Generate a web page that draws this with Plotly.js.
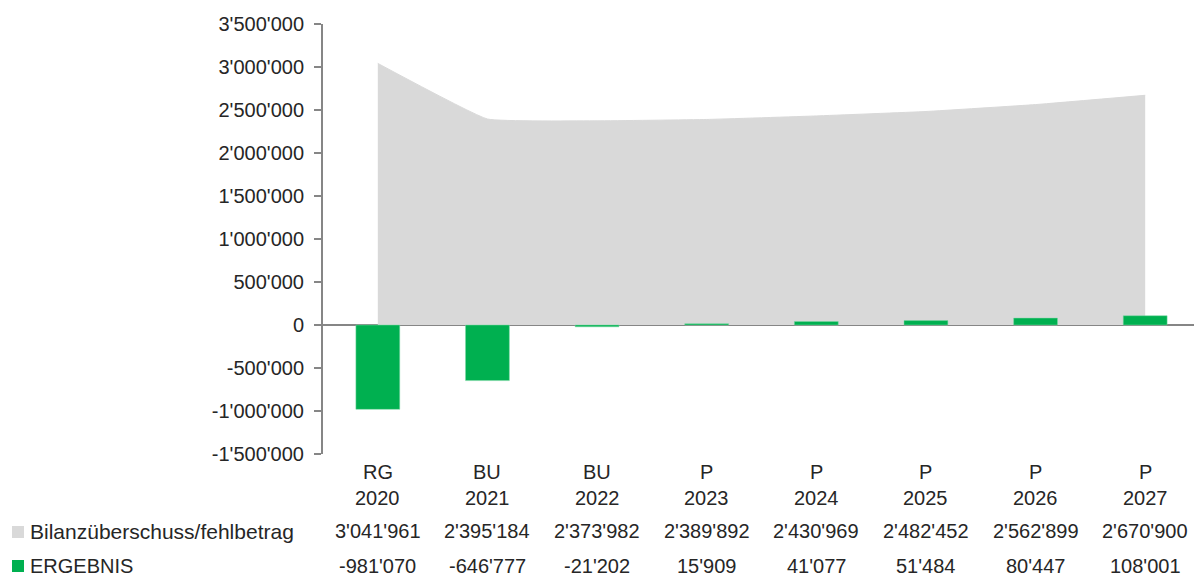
<!DOCTYPE html>
<html>
<head>
<meta charset="utf-8">
<script src="https://cdn.plot.ly/plotly-3.0.1.min.js"></script>
<style>
  html, body { margin: 0; padding: 0; overflow: hidden; background: #fff; }
  #chart { width: 1200px; height: 576px; }
</style>
</head>
<body>
<div id="chart"></div>
<script>
// ---- data ----
const categories = ['RG 2020', 'BU 2021', 'BU 2022', 'P 2023', 'P 2024', 'P 2025', 'P 2026', 'P 2027'];
const codes = ['RG', 'BU', 'BU', 'P', 'P', 'P', 'P', 'P'];
const years = ['2020', '2021', '2022', '2023', '2024', '2025', '2026', '2027'];
const bilanzLabel = 'Bilanzüberschuss/fehlbetrag';
const bilanz = [3041961, 2395184, 2373982, 2389892, 2430969, 2482452, 2562899, 2670900];
const ergebnisLabel = 'ERGEBNIS';
const ergebnis = [-981070, -646777, -21202, 15909, 41077, 51484, 80447, 108001];
const yTickVals = [-1500000, -1000000, -500000, 0, 500000, 1000000, 1500000, 2000000, 2500000, 3000000, 3500000];

// ---- helpers ----
function fmt(n) {
  const s = Math.abs(Math.round(n)).toString().replace(/\B(?=(\d{3})+(?!\d))/g, "'");
  return (n < 0 ? '-' : '') + s;
}

const FONT = 'Liberation Sans, Arial, sans-serif';
const TXT = '#262626';
const GRAY_AXIS = '#868686';
const AREA = '#D9D9D9';
const GREEN = '#00B050';

const W = 1200, H = 576;
const ML = 323, MR = 0, MT = 24, MB = 122;
const plotW = W - ML - MR, plotH = H - MT - MB;
const px2paperX = px => (px - ML) / plotW;
const px2paperY = py => (H - MB - py) / plotH;

const traces = [
  {
    type: 'scatter', mode: 'lines', x: categories, y: bilanz, name: bilanzLabel,
    fill: 'tozeroy', fillcolor: AREA,
    line: { color: AREA, width: 1, shape: 'spline', smoothing: 0.3 },
    xaxis: 'x', yaxis: 'y', hoverinfo: 'skip', showlegend: false
  },
  {
    type: 'bar', x: categories, y: ergebnis, name: ergebnisLabel,
    marker: { color: GREEN, line: { color: '#7fd8a7', width: 0.5 } },
    width: 0.4,
    xaxis: 'x2', yaxis: 'y', hoverinfo: 'skip', showlegend: false
  }
];

const annotations = [];
const rowY = { code: 472.5, year: 497.5, bilanz: 531, erg: 565.5 };
const f = { family: FONT, size: 20, color: TXT };
const fLabel = { family: FONT, size: 21, color: TXT };
categories.forEach((c, i) => {
  annotations.push({ xref: 'x', yref: 'paper', x: c, y: px2paperY(rowY.code), text: codes[i], showarrow: false, xanchor: 'center', yanchor: 'middle', font: f });
  annotations.push({ xref: 'x', yref: 'paper', x: c, y: px2paperY(rowY.year), text: years[i], showarrow: false, xanchor: 'center', yanchor: 'middle', font: f });
  annotations.push({ xref: 'x', yref: 'paper', x: c, y: px2paperY(rowY.bilanz), text: fmt(bilanz[i]), showarrow: false, xanchor: 'center', yanchor: 'middle', font: f });
  annotations.push({ xref: 'x', yref: 'paper', x: c, y: px2paperY(rowY.erg), text: fmt(ergebnis[i]), showarrow: false, xanchor: 'center', yanchor: 'middle', font: f });
});
annotations.push({ xref: 'paper', yref: 'paper', x: px2paperX(28), y: px2paperY(rowY.bilanz), text: bilanzLabel, showarrow: false, xanchor: 'left', yanchor: 'middle', font: fLabel });
annotations.push({ xref: 'paper', yref: 'paper', x: px2paperX(28), y: px2paperY(rowY.erg), text: ergebnisLabel, showarrow: false, xanchor: 'left', yanchor: 'middle', font: f });

const shapes = [
  { type: 'rect', xref: 'paper', yref: 'paper', x0: px2paperX(12), x1: px2paperX(24), y0: px2paperY(538), y1: px2paperY(526), fillcolor: AREA, line: { width: 0 } },
  { type: 'rect', xref: 'paper', yref: 'paper', x0: px2paperX(12), x1: px2paperX(24), y0: px2paperY(572), y1: px2paperY(560), fillcolor: GREEN, line: { width: 0 } }
];

const layout = {
  width: W, height: H,
  margin: { l: ML, r: MR, t: MT, b: MB, pad: 0 },
  paper_bgcolor: '#fff', plot_bgcolor: '#fff',
  font: { family: FONT, size: 20, color: TXT },
  xaxis: {
    type: 'category', categoryorder: 'array', categoryarray: categories,
    range: [-0.5, 7.5], showticklabels: false, ticks: '', showline: false,
    showgrid: false, zeroline: false, fixedrange: true
  },
  xaxis2: {
    type: 'category', categoryorder: 'array', categoryarray: categories,
    overlaying: 'x', matches: 'x', range: [-0.5, 7.5], visible: false, fixedrange: true
  },
  yaxis: {
    range: [-1500000, 3500000], tickmode: 'array', tickvals: yTickVals,
    ticktext: yTickVals.map(fmt), ticks: 'outside', ticklen: 7, tickwidth: 1.5,
    tickcolor: GRAY_AXIS, showline: true, linecolor: GRAY_AXIS, linewidth: 2,
    showgrid: false, zeroline: true, zerolinecolor: GRAY_AXIS, zerolinewidth: 2,
    tickfont: { family: FONT, size: 20, color: TXT }, ticklabelstandoff: 6,
    layer: 'above traces', fixedrange: true
  },
  bargap: 0.6,
  showlegend: false,
  annotations: annotations,
  shapes: shapes
};

Plotly.newPlot('chart', traces, layout, { displayModeBar: false, staticPlot: true });
</script>
</body>
</html>
